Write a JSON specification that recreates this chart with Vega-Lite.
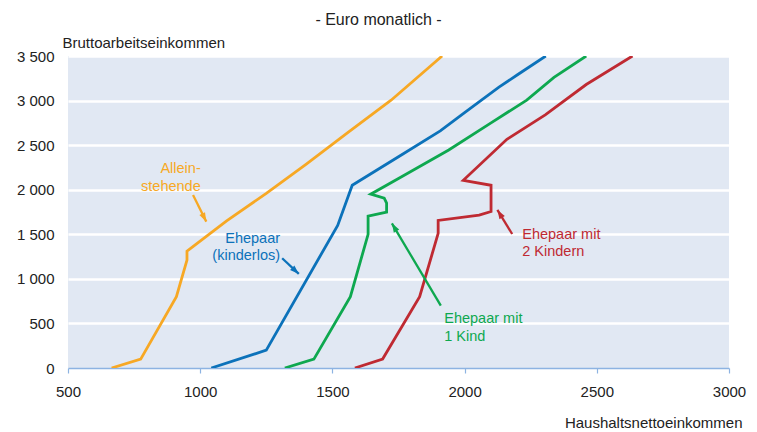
{
  "$schema": "https://vega.github.io/schema/vega-lite/v6.json",
  "width": 661,
  "height": 312,
  "autosize": "none",
  "padding": {"left": 68, "top": 56, "right": 28, "bottom": 64},
  "background": "white",
  "config": {
    "view": {"fill": "#E1E8F3", "stroke": null},
    "font": "Liberation Sans"
  },
  "title": {
    "text": "- Euro monatlich -",
    "fontSize": 16,
    "fontWeight": "normal",
    "color": "#222222",
    "anchor": "middle",
    "frame": "group",
    "dx": -20,
    "offset": -6,
    "baseline": "alphabetic"
  },
  "datasets": {
    "lines": [
      {"series": "Alleinstehende", "order": 1, "x": 665, "y": 0},
      {"series": "Alleinstehende", "order": 2, "x": 775, "y": 100},
      {"series": "Alleinstehende", "order": 3, "x": 910, "y": 800},
      {"series": "Alleinstehende", "order": 4, "x": 950, "y": 1210},
      {"series": "Alleinstehende", "order": 5, "x": 950, "y": 1310},
      {"series": "Alleinstehende", "order": 6, "x": 970, "y": 1355},
      {"series": "Alleinstehende", "order": 7, "x": 1100, "y": 1650},
      {"series": "Alleinstehende", "order": 8, "x": 1250, "y": 1960},
      {"series": "Alleinstehende", "order": 9, "x": 1400, "y": 2285},
      {"series": "Alleinstehende", "order": 10, "x": 1558, "y": 2640},
      {"series": "Alleinstehende", "order": 11, "x": 1722, "y": 3004},
      {"series": "Alleinstehende", "order": 12, "x": 1915, "y": 3500},
      {"series": "Ehepaar (kinderlos)", "order": 1, "x": 1042, "y": 0},
      {"series": "Ehepaar (kinderlos)", "order": 2, "x": 1250, "y": 200},
      {"series": "Ehepaar (kinderlos)", "order": 3, "x": 1520, "y": 1600},
      {"series": "Ehepaar (kinderlos)", "order": 4, "x": 1575, "y": 2050},
      {"series": "Ehepaar (kinderlos)", "order": 5, "x": 1750, "y": 2370},
      {"series": "Ehepaar (kinderlos)", "order": 6, "x": 1908, "y": 2660},
      {"series": "Ehepaar (kinderlos)", "order": 7, "x": 2000, "y": 2865},
      {"series": "Ehepaar (kinderlos)", "order": 8, "x": 2130, "y": 3150},
      {"series": "Ehepaar (kinderlos)", "order": 9, "x": 2200, "y": 3290},
      {"series": "Ehepaar (kinderlos)", "order": 10, "x": 2307, "y": 3500},
      {"series": "Ehepaar mit 1 Kind", "order": 1, "x": 1320, "y": 0},
      {"series": "Ehepaar mit 1 Kind", "order": 2, "x": 1430, "y": 100},
      {"series": "Ehepaar mit 1 Kind", "order": 3, "x": 1568, "y": 800},
      {"series": "Ehepaar mit 1 Kind", "order": 4, "x": 1635, "y": 1500},
      {"series": "Ehepaar mit 1 Kind", "order": 5, "x": 1635, "y": 1705},
      {"series": "Ehepaar mit 1 Kind", "order": 6, "x": 1705, "y": 1750},
      {"series": "Ehepaar mit 1 Kind", "order": 7, "x": 1705, "y": 1850},
      {"series": "Ehepaar mit 1 Kind", "order": 8, "x": 1696, "y": 1905},
      {"series": "Ehepaar mit 1 Kind", "order": 9, "x": 1645, "y": 1950},
      {"series": "Ehepaar mit 1 Kind", "order": 10, "x": 1750, "y": 2125},
      {"series": "Ehepaar mit 1 Kind", "order": 11, "x": 1940, "y": 2445},
      {"series": "Ehepaar mit 1 Kind", "order": 12, "x": 2100, "y": 2750},
      {"series": "Ehepaar mit 1 Kind", "order": 13, "x": 2235, "y": 3005},
      {"series": "Ehepaar mit 1 Kind", "order": 14, "x": 2338, "y": 3260},
      {"series": "Ehepaar mit 1 Kind", "order": 15, "x": 2460, "y": 3500},
      {"series": "Ehepaar mit 2 Kindern", "order": 1, "x": 1585, "y": 0},
      {"series": "Ehepaar mit 2 Kindern", "order": 2, "x": 1690, "y": 100},
      {"series": "Ehepaar mit 2 Kindern", "order": 3, "x": 1830, "y": 800},
      {"series": "Ehepaar mit 2 Kindern", "order": 4, "x": 1900, "y": 1510},
      {"series": "Ehepaar mit 2 Kindern", "order": 5, "x": 1900, "y": 1655},
      {"series": "Ehepaar mit 2 Kindern", "order": 6, "x": 2055, "y": 1715},
      {"series": "Ehepaar mit 2 Kindern", "order": 7, "x": 2100, "y": 1755},
      {"series": "Ehepaar mit 2 Kindern", "order": 8, "x": 2100, "y": 1885},
      {"series": "Ehepaar mit 2 Kindern", "order": 9, "x": 2100, "y": 2050},
      {"series": "Ehepaar mit 2 Kindern", "order": 10, "x": 1995, "y": 2105},
      {"series": "Ehepaar mit 2 Kindern", "order": 11, "x": 2160, "y": 2565},
      {"series": "Ehepaar mit 2 Kindern", "order": 12, "x": 2305, "y": 2840},
      {"series": "Ehepaar mit 2 Kindern", "order": 13, "x": 2460, "y": 3180},
      {"series": "Ehepaar mit 2 Kindern", "order": 14, "x": 2635, "y": 3500}
    ],
    "arrows": [
      {"series": "Alleinstehende", "x1": 973, "y1": 1941, "x2": 1023, "y2": 1642},
      {"series": "Ehepaar (kinderlos)", "x1": 1310, "y1": 1231, "x2": 1373, "y2": 1055},
      {"series": "Ehepaar mit 1 Kind", "x1": 1910, "y1": 699, "x2": 1725, "y2": 1623},
      {"series": "Ehepaar mit 2 Kindern", "x1": 2180, "y1": 1503, "x2": 2124, "y2": 1773}
    ],
    "labels": [
      {"series": "Alleinstehende", "x": 1002, "y": 2233, "text": "Allein-"},
      {"series": "Alleinstehende", "x": 1002, "y": 2025, "text": "stehende"},
      {"series": "Ehepaar (kinderlos)", "x": 1302, "y": 1447, "text": "Ehepaar"},
      {"series": "Ehepaar (kinderlos)", "x": 1302, "y": 1251, "text": "(kinderlos)"},
      {"series": "Ehepaar mit 1 Kind", "x": 1923, "y": 550, "text": "Ehepaar mit"},
      {"series": "Ehepaar mit 1 Kind", "x": 1923, "y": 351, "text": "1 Kind"},
      {"series": "Ehepaar mit 2 Kindern", "x": 2218, "y": 1492, "text": "Ehepaar mit"},
      {"series": "Ehepaar mit 2 Kindern", "x": 2218, "y": 1296, "text": "2 Kindern"}
    ]
  },
  "layer": [
    {
      "data": {"name": "lines"},
      "mark": {"type": "line", "strokeWidth": 2.8, "clip": true},
      "encoding": {
        "x": {
          "field": "x", "type": "quantitative",
          "title": "Haushaltsnettoeinkommen",
          "scale": {"domain": [500, 3000], "nice": false, "zero": false},
          "axis": {
            "values": [500, 1000, 1500, 2000, 2500, 3000],
            "format": "d",
            "grid": false,
            "domainColor": "#8DB3E2",
            "domainWidth": 1.5,
            "tickColor": "#8DB3E2",
            "tickWidth": 1.2,
            "tickSize": 5,
            "labelFontSize": 15,
            "labelColor": "#222222",
            "labelPadding": 11,
            "labelFlush": false,
            "titleX": 674,
            "titleY": 59,
            "titleAlign": "right",
            "titleBaseline": "alphabetic",
            "titleFontWeight": "normal",
            "titleFontSize": 15,
            "titleColor": "#222222"
          }
        },
        "y": {
          "field": "y", "type": "quantitative",
          "title": "Bruttoarbeitseinkommen",
          "scale": {"domain": [0, 3500], "nice": false},
          "axis": {
            "values": [0, 500, 1000, 1500, 2000, 2500, 3000, 3500],
            "labelExpr": "replace(format(datum.value, ','), ',', ' ')",
            "domain": false,
            "ticks": false,
            "grid": true,
            "gridColor": {"condition": {"test": "datum.value === 0", "value": null}, "value": "white"},
            "gridWidth": 2.5,
            "gridOpacity": 1,
            "labelFontSize": 15,
            "labelColor": "#222222",
            "labelPadding": 14,
            "labelFlush": false,
            "titleAngle": 0,
            "titleX": -6,
            "titleY": -9,
            "titleAlign": "left",
            "titleBaseline": "alphabetic",
            "titleFontWeight": "normal",
            "titleFontSize": 15,
            "titleColor": "#222222"
          }
        },
        "color": {
          "field": "series", "type": "nominal",
          "scale": {
            "domain": ["Alleinstehende", "Ehepaar (kinderlos)", "Ehepaar mit 1 Kind", "Ehepaar mit 2 Kindern"],
            "range": ["#F7A824", "#0C72BA", "#0EA84F", "#BF2A32"]
          },
          "legend": null
        },
        "order": {"field": "order", "type": "quantitative"}
      }
    },
    {
      "data": {"name": "arrows"},
      "mark": {"type": "rule", "strokeWidth": 2.3},
      "encoding": {
        "x": {"field": "x1", "type": "quantitative", "title": "Haushaltsnettoeinkommen"},
        "y": {"field": "y1", "type": "quantitative", "title": "Bruttoarbeitseinkommen"},
        "x2": {"field": "x2"},
        "y2": {"field": "y2"},
        "color": {"field": "series", "type": "nominal", "legend": null}
      }
    },
    {
      "data": {"name": "arrows"},
      "transform": [{"filter": "datum.series === 'Alleinstehende'"}],
      "mark": {"type": "point", "shape": "M0,0L0.7,2L-0.7,2Z", "filled": true, "size": 81, "angle": 153, "opacity": 1},
      "encoding": {
        "x": {"field": "x2", "type": "quantitative", "title": "Haushaltsnettoeinkommen"},
        "y": {"field": "y2", "type": "quantitative", "title": "Bruttoarbeitseinkommen"},
        "color": {"field": "series", "type": "nominal", "legend": null}
      }
    },
    {
      "data": {"name": "arrows"},
      "transform": [{"filter": "datum.series === 'Ehepaar (kinderlos)'"}],
      "mark": {"type": "point", "shape": "M0,0L0.7,2L-0.7,2Z", "filled": true, "size": 81, "angle": 133, "opacity": 1},
      "encoding": {
        "x": {"field": "x2", "type": "quantitative", "title": "Haushaltsnettoeinkommen"},
        "y": {"field": "y2", "type": "quantitative", "title": "Bruttoarbeitseinkommen"},
        "color": {"field": "series", "type": "nominal", "legend": null}
      }
    },
    {
      "data": {"name": "arrows"},
      "transform": [{"filter": "datum.series === 'Ehepaar mit 1 Kind'"}],
      "mark": {"type": "point", "shape": "M0,0L0.7,2L-0.7,2Z", "filled": true, "size": 81, "angle": 329, "opacity": 1},
      "encoding": {
        "x": {"field": "x2", "type": "quantitative", "title": "Haushaltsnettoeinkommen"},
        "y": {"field": "y2", "type": "quantitative", "title": "Bruttoarbeitseinkommen"},
        "color": {"field": "series", "type": "nominal", "legend": null}
      }
    },
    {
      "data": {"name": "arrows"},
      "transform": [{"filter": "datum.series === 'Ehepaar mit 2 Kindern'"}],
      "mark": {"type": "point", "shape": "M0,0L0.7,2L-0.7,2Z", "filled": true, "size": 81, "angle": 328, "opacity": 1},
      "encoding": {
        "x": {"field": "x2", "type": "quantitative", "title": "Haushaltsnettoeinkommen"},
        "y": {"field": "y2", "type": "quantitative", "title": "Bruttoarbeitseinkommen"},
        "color": {"field": "series", "type": "nominal", "legend": null}
      }
    },
    {
      "data": {"name": "labels"},
      "transform": [{"filter": "datum.series === 'Alleinstehende' || datum.series === 'Ehepaar (kinderlos)'"}],
      "mark": {"type": "text", "align": "right", "baseline": "middle", "fontSize": 14.5},
      "encoding": {
        "x": {"field": "x", "type": "quantitative", "title": "Haushaltsnettoeinkommen"},
        "y": {"field": "y", "type": "quantitative", "title": "Bruttoarbeitseinkommen"},
        "text": {"field": "text"},
        "color": {"field": "series", "type": "nominal", "legend": null}
      }
    },
    {
      "data": {"name": "labels"},
      "transform": [{"filter": "datum.series === 'Ehepaar mit 1 Kind' || datum.series === 'Ehepaar mit 2 Kindern'"}],
      "mark": {"type": "text", "align": "left", "baseline": "middle", "fontSize": 14.5},
      "encoding": {
        "x": {"field": "x", "type": "quantitative", "title": "Haushaltsnettoeinkommen"},
        "y": {"field": "y", "type": "quantitative", "title": "Bruttoarbeitseinkommen"},
        "text": {"field": "text"},
        "color": {"field": "series", "type": "nominal", "legend": null}
      }
    }
  ]
}
